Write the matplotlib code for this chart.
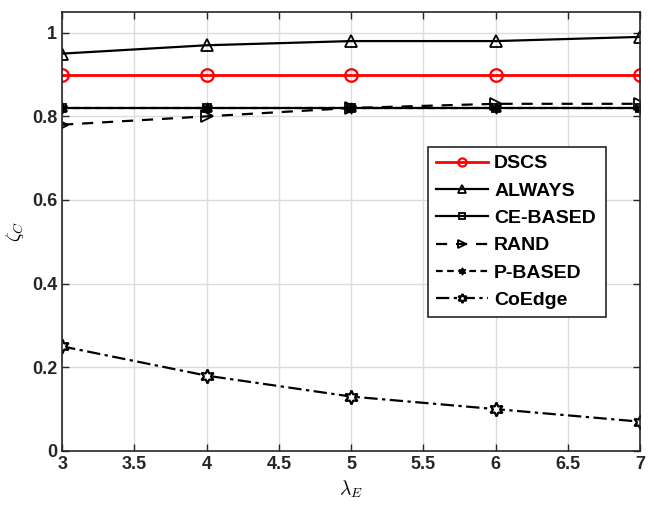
import matplotlib.pyplot as plt
import numpy as np

plt.rcParams['font.family'] = ['Liberation Sans', 'DejaVu Sans']
plt.rcParams['mathtext.fontset'] = 'cm'

lam = [3, 4, 5, 6, 7]
dscs = [0.90, 0.90, 0.90, 0.90, 0.90]
always = [0.95, 0.97, 0.98, 0.98, 0.99]
ce_based = [0.82, 0.82, 0.82, 0.82, 0.82]
rand = [0.78, 0.80, 0.82, 0.83, 0.83]
p_based = [0.82, 0.82, 0.82, 0.82, 0.82]
coedge = [0.25, 0.18, 0.13, 0.10, 0.07]

fig = plt.figure(figsize=(6.54, 5.13), dpi=100)
ax = fig.add_axes([0.095, 0.121, 0.884, 0.856])

ax.plot(lam, dscs, color="red", lw=2, marker="o", ms=9, mfc="none", mew=1.6, label="DSCS")
ax.plot(lam, always, color="black", lw=1.6, marker="^", ms=9, mfc="none", mew=1.3, label="ALWAYS")
ax.plot(lam, ce_based, color="black", lw=1.6, marker="s", ms=6, mfc="none", mew=1.3, label="CE-BASED")
ax.plot(lam, rand, color="black", lw=1.6, ls=(0, (5, 4)), marker=">", ms=9, mfc="none", mew=1.3, label="RAND")
ax.plot(lam, p_based, color="black", lw=1.6, ls=(0, (3, 2)), marker=(6, 1, 0), ms=8, label="P-BASED")
ax.plot(lam, coedge, color="black", lw=1.6, ls=(0, (6, 2, 1.5, 2)), marker=(6, 1, 0), ms=10,
        mfc="white", mew=1.6, label="CoEdge")

ax.set_xlim(3, 7)
ax.set_ylim(0, 1.05)
ax.set_xticks(np.arange(3, 7.01, 0.5))
ax.set_xticklabels(["3", "3.5", "4", "4.5", "5", "5.5", "6", "6.5", "7"])
ax.set_yticks([0, 0.2, 0.4, 0.6, 0.8, 1.0])
ax.set_yticklabels(["0", "0.2", "0.4", "0.6", "0.8", "1"])
ax.tick_params(direction="in", top=True, right=True, labelsize=13, length=5, width=1, colors="#262626")
for lab in ax.get_xticklabels() + ax.get_yticklabels():
    lab.set_fontweight("bold")
for s in ax.spines.values():
    s.set_linewidth(1.2)
    s.set_color("#262626")
ax.grid(True, color="#dcdcdc", lw=1)
ax.set_axisbelow(True)

ax.set_xlabel(r"$\lambda_E$", fontsize=14)
ax.set_ylabel(r"$\zeta_C$", fontsize=14)

leg = ax.legend(loc="upper left", bbox_to_anchor=(0.633, 0.298, 0.307, 0.394), mode="expand",
                prop={"weight": "bold", "size": 14}, fancybox=False, edgecolor="#262626",
                framealpha=1, handlelength=2.7, borderaxespad=0, labelspacing=0.5,
                handletextpad=0.3, borderpad=0.4, markerscale=0.65)
leg.get_frame().set_linewidth(1.2)

fig.savefig("out.png", dpi=100)
